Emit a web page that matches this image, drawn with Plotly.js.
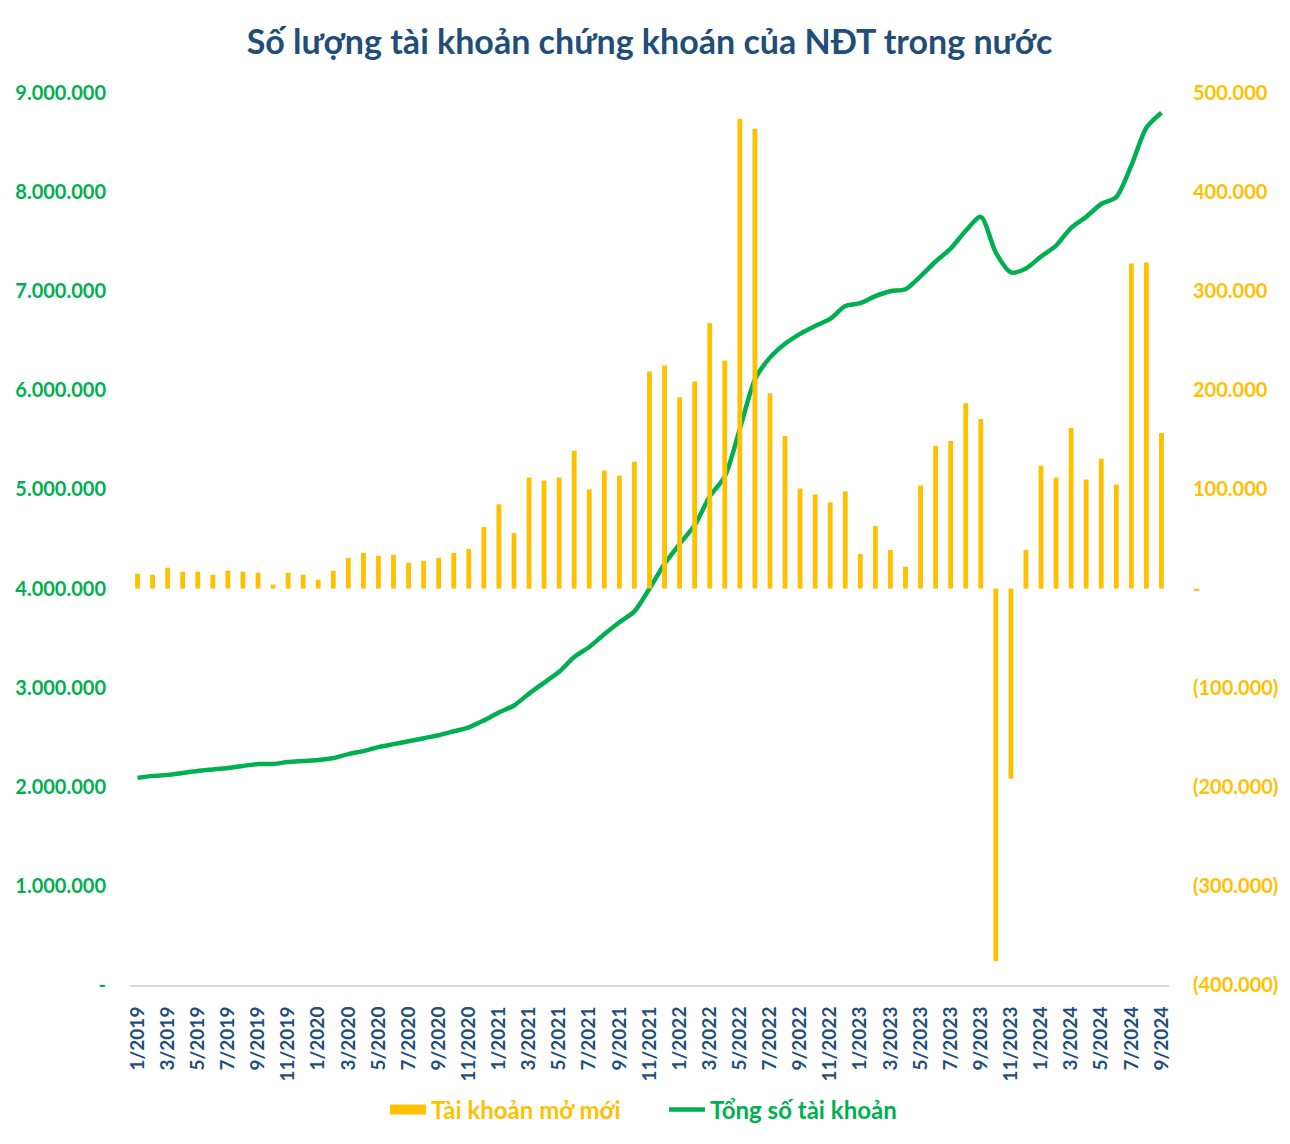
<!DOCTYPE html>
<html>
<head>
<meta charset="utf-8">
<script src="https://cdn.plot.ly/plotly-3.0.1.min.js"></script>
<style>html,body{margin:0;padding:0;background:#fff;}#chart{width:1290px;height:1144px;}</style>
</head>
<body>
<div id="chart"></div>
<script>
const months = [
 "1/2019","2/2019","3/2019","4/2019","5/2019","6/2019","7/2019","8/2019","9/2019","10/2019","11/2019","12/2019",
 "1/2020","2/2020","3/2020","4/2020","5/2020","6/2020","7/2020","8/2020","9/2020","10/2020","11/2020","12/2020",
 "1/2021","2/2021","3/2021","4/2021","5/2021","6/2021","7/2021","8/2021","9/2021","10/2021","11/2021","12/2021",
 "1/2022","2/2022","3/2022","4/2022","5/2022","6/2022","7/2022","8/2022","9/2022","10/2022","11/2022","12/2022",
 "1/2023","2/2023","3/2023","4/2023","5/2023","6/2023","7/2023","8/2023","9/2023","10/2023","11/2023","12/2023",
 "1/2024","2/2024","3/2024","4/2024","5/2024","6/2024","7/2024","8/2024","9/2024"
];
const newAccounts = [
 15000,14000,21000,17000,17000,14000,18000,17000,16000,4000,16000,14000,
 9000,18000,31000,36000,33000,34000,26000,28000,31000,36000,40000,62000,
 85000,56000,112000,109000,112000,139000,100000,119000,114000,128000,219000,225000,
 193000,209000,268000,230000,474000,464000,197000,154000,101000,95000,87000,98000,
 35000,63000,39000,22000,104000,144000,149000,187000,171000,-376000,-192000,39000,
 124000,112000,162000,110000,131000,105000,328000,329000,157000
];
const totalAccounts = [
 2090000,2110000,2120000,2140000,2160000,2175000,2190000,2210000,2230000,2230000,2250000,2260000,
 2270000,2290000,2330000,2360000,2400000,2430000,2460000,2490000,2520000,2560000,2600000,2670000,
 2750000,2820000,2940000,3050000,3160000,3310000,3410000,3540000,3660000,3770000,4000000,4250000,
 4450000,4640000,4930000,5130000,5610000,6110000,6330000,6470000,6570000,6650000,6720000,6850000,
 6880000,6950000,7000000,7020000,7150000,7300000,7430000,7610000,7750000,7390000,7190000,7230000,
 7350000,7460000,7640000,7750000,7880000,7950000,8270000,8650000,8800000
];
const leftTickVals = [0,1000000,2000000,3000000,4000000,5000000,6000000,7000000,8000000,9000000];
const leftTickText = ["-","1.000.000","2.000.000","3.000.000","4.000.000","5.000.000","6.000.000","7.000.000","8.000.000","9.000.000"];
const rightTickVals = [-400000,-300000,-200000,-100000,0,100000,200000,300000,400000,500000];
const rightTickText = ["(400.000)","(300.000)","(200.000)","(100.000)","-","100.000","200.000","300.000","400.000","500.000"];
const xTickVals = months.filter((m,i)=> i % 2 === 0);
const barName = "Tài khoản mở mới";
const lineName = "Tổng số tài khoản";

const font = "Lato, 'Open Sans', sans-serif";
const traces = [
 {
  type: "bar", x: months, y: newAccounts, yaxis: "y2",
  name: barName, showlegend: false,
  marker: {color: "#FFC000"}
 },
 {
  type: "scatter", mode: "lines", x: [null], y: [null], yaxis: "y2",
  name: '<span style="color:#FFC000">' + barName + '</span>',
  line: {color: "#FFC000", width: 15}, hoverinfo: "skip"
 },
 {
  type: "scatter", mode: "lines", x: months, y: totalAccounts, yaxis: "y",
  name: '<span style="color:#00B050">' + lineName + '</span>',
  line: {color: "#00B050", width: 4.5, shape: "spline", smoothing: 0.75}
 }
];
const layout = {
 width: 1290, height: 1144,
 margin: {l: 130, r: 121, t: 93, b: 156},
 paper_bgcolor: "#fff", plot_bgcolor: "#fff",
 bargap: 0.68,
 showlegend: true,
 title: {text: "<b>Số lượng tài khoản chứng khoán của NĐT trong nước</b>",
   font: {family: font, size: 34, color: "#1F4E79"},
   x: 0.5, xanchor: "center", xref: "paper", y: 0.963, yanchor: "middle", yref: "container"},
 xaxis: {
  type: "category", tickmode: "array", tickvals: xTickVals, ticktext: xTickVals,
  tickangle: -90, showgrid: false, zeroline: false,
  showline: true, linecolor: "#D9D9D9", linewidth: 2,
  ticks: "outside", ticklen: 12, tickcolor: "rgba(0,0,0,0)",
  tickfont: {family: font, size: 19, color: "#1F4E79", weight: "bold"},
  range: [-0.5, months.length - 0.5]
 },
 yaxis: {
  range: [0, 9000000], tickmode: "array", tickvals: leftTickVals, ticktext: leftTickText,
  showgrid: false, zeroline: false, showline: false,
  ticks: "outside", ticklen: 19, tickcolor: "rgba(0,0,0,0)",
  tickfont: {family: font, size: 20, color: "#00B050", weight: "bold"}
 },
 yaxis2: {
  overlaying: "y", side: "right",
  range: [-400000, 500000], tickmode: "array", tickvals: rightTickVals, ticktext: rightTickText,
  showgrid: false, zeroline: false, showline: false,
  ticks: "outside", ticklen: 19, tickcolor: "rgba(0,0,0,0)",
  tickfont: {family: font, size: 20, color: "#FFC000", weight: "bold"}
 },
 legend: {orientation: "h", x: 0.2454, xanchor: "left", y: -0.14, yanchor: "middle",
   font: {family: font, size: 24, weight: "bold"}, itemwidth: 36, entrywidth: 228,
   traceorder: "normal"}
};
Plotly.newPlot("chart", traces, layout, {displayModeBar: false, staticPlot: true});
</script>
</body>
</html>
